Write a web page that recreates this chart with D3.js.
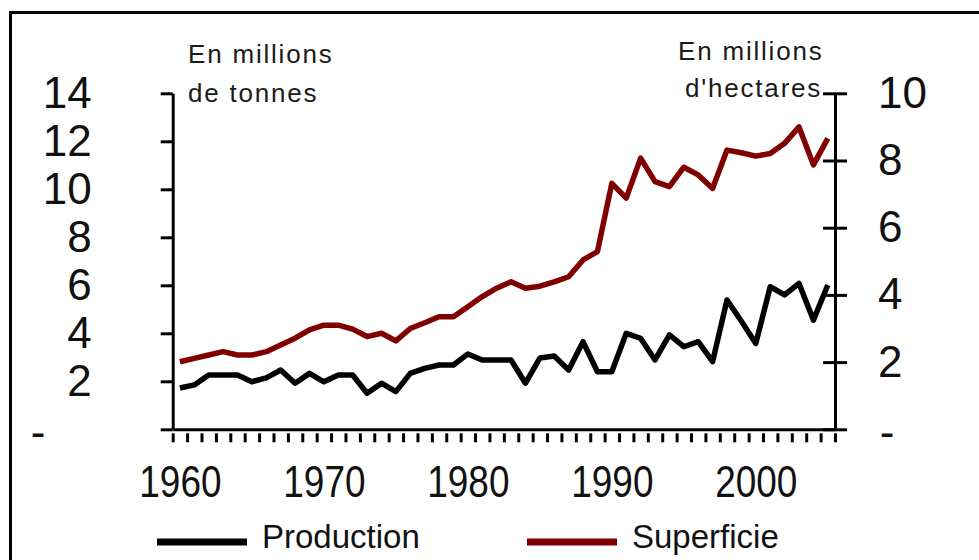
<!DOCTYPE html>
<html>
<head>
<meta charset="utf-8">
<script src="https://cdn.jsdelivr.net/npm/d3@7/dist/d3.min.js"></script>
<style>
  html, body { margin: 0; padding: 0; background: #fff; }
  svg { display: block; }
</style>
</head>
<body>
<svg id="chart" width="979" height="560"></svg>
<script>
// ---- Data ----
const years = d3.range(1960, 2006);
const production = [ // millions de tonnes (left axis)
  1.72, 1.85, 2.26, 2.26, 2.26, 1.98, 2.14, 2.47, 1.92, 2.33,
  1.98, 2.26, 2.26, 1.50, 1.92, 1.57, 2.33, 2.54, 2.68, 2.68,
  3.14, 2.89, 2.89, 2.89, 1.92, 2.97, 3.05, 2.47, 3.65, 2.40,
  2.40, 4.00, 3.79, 2.89, 3.93, 3.44, 3.65, 2.82, 5.39, 4.50,
  3.58, 5.94, 5.60, 6.08, 4.55, 6.01
];
const superficie = [ // millions d'hectares (right axis)
  2.01, 2.11, 2.21, 2.31, 2.21, 2.21, 2.31, 2.51, 2.71, 2.96,
  3.10, 3.10, 2.98, 2.76, 2.86, 2.63, 3.00, 3.17, 3.35, 3.35,
  3.65, 3.95, 4.20, 4.39, 4.20, 4.26, 4.39, 4.54, 5.04, 5.29,
  7.32, 6.88, 8.07, 7.37, 7.22, 7.80, 7.57, 7.17, 8.31, 8.23,
  8.13, 8.21, 8.51, 9.00, 7.87, 8.66
];
const leftTicks = [0, 2, 4, 6, 8, 10, 12, 14];
const rightTicks = [0, 2, 4, 6, 8, 10];
const xLabelYears = [1960, 1970, 1980, 1990, 2000];
const seriesNames = ["Production", "Superficie"];
const leftTitle = ["En millions", "de tonnes"];
const rightTitle = ["En millions", "d'hectares"];

// ---- Layout ----
const svg = d3.select("#chart");
const plotLeft = 172.7, plotRight = 835, plotTop = 93.3, plotBottom = 429.3;
const colProd = "#000000", colSup = "#800000";
const numFont = "'Liberation Sans', Arial, sans-serif";

// Outer frame
svg.append("rect")
  .attr("x", 10.5).attr("y", 12.5).attr("width", 1000).attr("height", 700)
  .attr("fill", "none").attr("stroke", "#000").attr("stroke-width", 3);

const x = d3.scaleLinear().domain([1959.5, 2005.5]).range([plotLeft, plotRight]);
const yL = d3.scaleLinear().domain([0, 14]).range([plotBottom, plotTop]);
const yR = d3.scaleLinear().domain([0, 10]).range([plotBottom, plotTop]);

// Left axis
const gL = svg.append("g").attr("transform", `translate(${plotLeft},0)`)
  .call(d3.axisLeft(yL).tickValues(leftTicks).tickSizeInner(12).tickSizeOuter(0)
    .tickPadding(69).tickFormat(d => d === 0 ? "-" : d));
gL.select(".domain").attr("stroke-width", 3);
gL.selectAll(".tick line").attr("stroke-width", 3);
gL.selectAll(".tick text").attr("font-family", numFont).attr("font-size", 44).attr("fill", "#111");
gL.selectAll(".tick").filter(d => d === 0).select("text")
  .attr("text-anchor", "middle").attr("x", 38 - plotLeft).attr("dy", 0).attr("y", 17);

// Right axis (cross ticks)
const gR = svg.append("g").attr("transform", `translate(${plotRight},0)`)
  .call(d3.axisRight(yR).tickValues(rightTicks).tickSizeInner(12).tickSizeOuter(0)
    .tickPadding(31).tickFormat(d => d === 0 ? "-" : d));
gR.select(".domain").attr("stroke-width", 3);
gR.selectAll(".tick line").attr("x1", -12).attr("x2", 12).attr("stroke-width", 3);
gR.selectAll(".tick text").attr("font-family", numFont).attr("font-size", 44).attr("fill", "#111");
gR.selectAll(".tick").filter(d => d === 0).select("text")
  .attr("text-anchor", "middle").attr("x", 887 - plotRight).attr("dy", 0).attr("y", 17);

// X axis line
const gXLine = svg.append("g").attr("transform", `translate(0,${plotBottom})`)
  .call(d3.axisBottom(x).tickValues([]).tickSizeOuter(0));
gXLine.select(".domain").attr("stroke-width", 3);

// X minor ticks at category boundaries (with small gap below the axis line)
const boundaries = d3.range(0, years.length + 1).map(i => 1959.5 + i);
const gXT = svg.append("g").attr("transform", `translate(0,${plotBottom + 4})`)
  .call(d3.axisBottom(x).tickValues(boundaries).tickSizeInner(9).tickSizeOuter(0).tickFormat(""));
gXT.select(".domain").remove();
gXT.selectAll(".tick line").attr("stroke-width", 3);

// X labels
const gXL = svg.append("g").attr("transform", `translate(0,${plotBottom})`)
  .call(d3.axisBottom(x).tickValues(xLabelYears).tickSize(0).tickPadding(36).tickFormat(d3.format("d")));
gXL.select(".domain").remove();
gXL.selectAll(".tick text").attr("font-family", numFont).attr("font-size", 44)
  .attr("fill", "#111").attr("transform", "scale(0.84,1)");

// Lines
const lineL = d3.line().x((d, i) => x(years[i])).y(d => yL(d));
const lineR = d3.line().x((d, i) => x(years[i])).y(d => yR(d));
svg.append("path").datum(superficie).attr("d", lineR)
  .attr("fill", "none").attr("stroke", colSup).attr("stroke-width", 5.5).attr("stroke-linejoin", "round");
svg.append("path").datum(production).attr("d", lineL)
  .attr("fill", "none").attr("stroke", colProd).attr("stroke-width", 5.5).attr("stroke-linejoin", "round");

// Unit titles
const titleFont = "'Liberation Sans', Arial, sans-serif";
function title(lines, xs, ys) {
  lines.forEach((t, i) => {
    svg.append("text").attr("x", xs[i]).attr("y", ys[i]).text(t)
      .attr("font-family", titleFont).attr("font-size", 26).attr("letter-spacing", 1.8)
      .attr("fill", "#1a1a1a");
  });
}
title(leftTitle, [188, 188], [63, 102]);
title(rightTitle, [678, 685], [60, 97]);

// Legend
const legend = [
  { name: seriesNames[0], color: colProd, x0: 157 },
  { name: seriesNames[1], color: colSup, x0: 527 }
];
legend.forEach(l => {
  svg.append("line").attr("x1", l.x0).attr("x2", l.x0 + 90).attr("y1", 542).attr("y2", 542)
    .attr("stroke", l.color).attr("stroke-width", 7);
  svg.append("text").attr("x", l.x0 + 105).attr("y", 548).text(l.name)
    .attr("font-family", numFont).attr("font-size", 33).attr("fill", "#111");
});
</script>
</body>
</html>
